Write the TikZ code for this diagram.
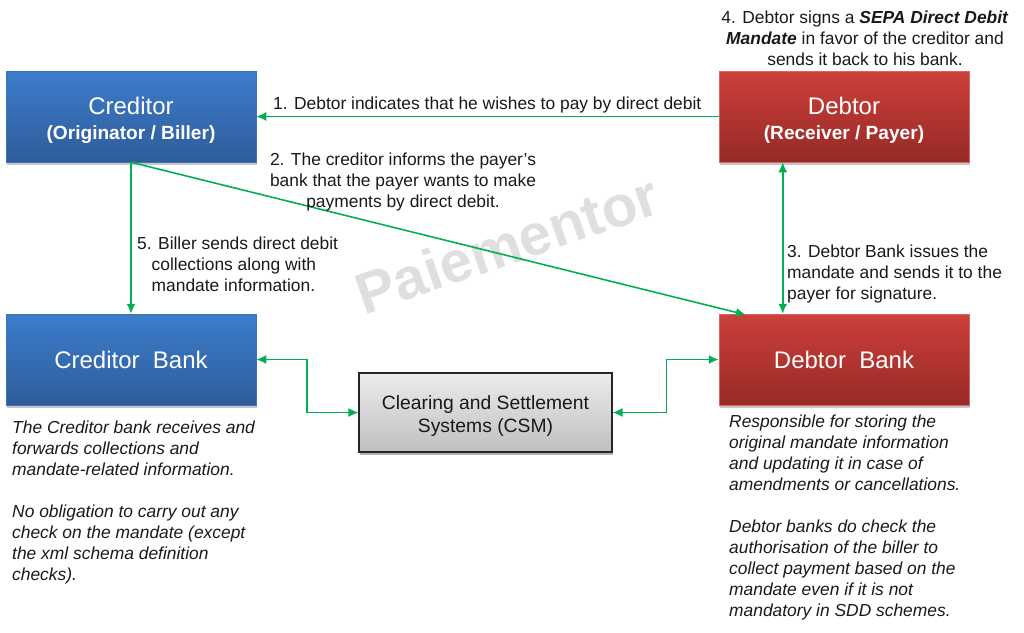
\documentclass[tikz,border=0pt]{standalone}
\usepackage{fontspec}
\setmainfont{Liberation Sans}
\usetikzlibrary{shadows,arrows.meta,calc}
\definecolor{conn}{HTML}{00B050}
\definecolor{blueT}{HTML}{3C7DCB}
\definecolor{blueB}{HTML}{2F5C99}
\definecolor{redT}{HTML}{CD3F3A}
\definecolor{redB}{HTML}{962A26}
\tikzset{
 x=1pt,y=-1pt,
 box/.style={rectangle,minimum width=250pt,minimum height=91pt,inner sep=0pt,align=center,text=white,
   font=\fontsize{24}{28}\selectfont,
   drop shadow={shadow xshift=1pt,shadow yshift=-3pt,fill=black,opacity=.22}},
 bluebox/.style={box,top color=blueT,bottom color=blueB,draw=blueT!70!blueB,line width=.5pt},
 redbox/.style={box,top color=redT,bottom color=redB,draw=redT!80!white,line width=.5pt},
 csmbox/.style={rectangle,minimum width=253pt,minimum height=79pt,inner sep=0pt,align=center,draw=black!85,line width=1.1pt,
   top color=gray!15,bottom color=gray!50,font=\fontsize{19.3}{23}\selectfont,text=black!90,
   drop shadow={shadow xshift=1pt,shadow yshift=-3pt,fill=black,opacity=.3}},
 lab/.style={inner sep=0pt,align=center,font=\fontsize{17.4}{21}\selectfont,text=black!90},
 lableft/.style={inner sep=0pt,align=left,anchor=north west,font=\fontsize{17.4}{21}\selectfont\itshape,text=black!90},
 conn/.style={draw=conn,line width=1.6pt,-{Latex[length=10pt,width=9pt]}},
 biconn/.style={draw=conn,line width=1.6pt,{Latex[length=10pt,width=9pt]}-{Latex[length=10pt,width=9pt]}},
 wm/.style={inner sep=0pt,text=gray!25,font=\fontsize{58}{58}\selectfont\bfseries,rotate=19}
}
\newcommand{\subline}[1]{{\fontsize{19.1}{22}\selectfont\bfseries #1}}
\begin{document}
\begin{tikzpicture}
\useasboundingbox (0,0) rectangle (1024,632);
\node[wm] (wm) at (507,244) {Paiementor};
\node[bluebox] (creditor) at (131,116.5) {\rule{0pt}{25pt}Creditor\\[-3pt]\subline{(Originator / Biller)}};
\node[redbox] (debtor) at (844,116.5) {\rule{0pt}{25pt}Debtor\\[-3pt]\subline{(Receiver / Payer)}};
\node[bluebox] (cbank) at (131,359.5) {\rule{0pt}{19pt}Creditor\ \ Bank};
\node[redbox] (dbank) at (844,359.5) {\rule{0pt}{19pt}Debtor\ \ Bank};
\node[csmbox] (csm) at (485.5,412.5) {\rule{0pt}{20pt}Clearing and Settlement\\Systems (CSM)};
\coordinate (dS) at ($(debtor.south west)+(64,0)$);
\coordinate (dN) at ($(dbank.north west)+(64,0)$);
\coordinate (dNw) at ($(dbank.north west)+(27,1)$);
\draw[conn] (debtor.west) -- (creditor.east);
\draw[conn] (creditor.south) -- (dNw);
\draw[conn] (creditor.south) -- (cbank.north);
\draw[biconn] (dS) -- (dN);
\draw[biconn] (cbank.east) -- ++(51,0) |- (csm.west);
\draw[biconn] (csm.east) -- ++(54,0) |- (dbank.west);
\node[lab,anchor=west] (t1) at (273,105) {1. Debtor indicates that he wishes to pay by direct debit};
\node[lab] (t2) at (403,182) {2. The creditor informs the payer's\\bank that the payer wants to make\\payments by direct debit.};
\node[lab] (t4) at (865,38) {4. Debtor signs a \textbf{\textit{SEPA Direct Debit}}\\\textbf{\textit{Mandate}} in favor of the creditor and\\sends it back to his bank.};
\node[lab,align=left,anchor=north west] (t3) at (787,245) {3. Debtor Bank issues the\\mandate and sends it to the\\payer for signature.};
\node[lab,align=left,anchor=north west] (t5) at (137,237) {5. Biller sends direct debit\\\ \ \ collections along with\\\ \ \ mandate information.};
\node[lableft] (n1) at (12,421) {The Creditor bank receives and\\forwards collections and\\mandate-related information.\\[21pt]No obligation to carry out any\\check on the mandate (except\\the xml schema definition\\checks).};
\node[lableft] (n2) at (729,415) {Responsible for storing the\\original mandate information\\and updating it in case of\\amendments or cancellations.\\[21pt]Debtor banks do check the\\authorisation of the biller to\\collect payment based on the\\mandate even if it is not\\mandatory in SDD schemes.};
\end{tikzpicture}
\end{document}
